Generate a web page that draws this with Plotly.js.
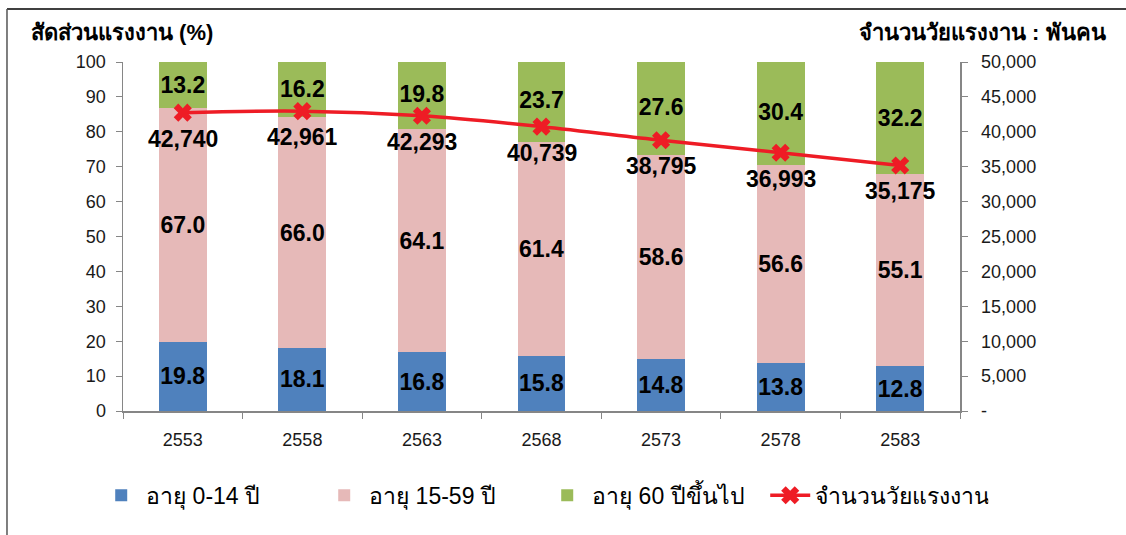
<!DOCTYPE html>
<html>
<head>
<meta charset="utf-8">
<script src="https://cdn.plot.ly/plotly-3.0.1.min.js"></script>
<style>
  html, body { margin: 0; padding: 0; background: #fff; }
  #chart { width: 1126px; height: 535px; }
</style>
</head>
<body>
<div id="chart"></div>
<script>
// years (Buddhist era)
var years = ['2553', '2558', '2563', '2568', '2573', '2578', '2583'];

// share of population by age group (%)
var age0to14 = [19.8, 18.1, 16.8, 15.8, 14.8, 13.8, 12.8];
var age15to59 = [67.0, 66.0, 64.1, 61.4, 58.6, 56.6, 55.1];
var age60plus = [13.2, 16.2, 19.8, 23.7, 27.6, 30.4, 32.2];

// working age population (thousand persons)
var workforce = [42740, 42961, 42293, 40739, 38795, 36993, 35175];

// right axis ticks
var rightTickVals = [0, 5000, 10000, 15000, 20000, 25000, 30000, 35000, 40000, 45000, 50000];
var rightTickText = ['-', '5,000', '10,000', '15,000', '20,000', '25,000', '30,000', '35,000', '40,000', '45,000', '50,000'];

var names = ['อายุ 0-14 ปี', 'อายุ 15-59 ปี', 'อายุ 60 ปีขึ้นไป', 'จำนวนวัยแรงงาน'];

var FONT = 'Arial, "Liberation Sans", "Noto Sans", sans-serif';
var labelFont = { family: FONT, size: 23, color: '#000' };

function barTrace(vals, name, color) {
    return {
        x: years,
        y: vals,
        name: name,
        type: 'bar',
        width: 0.4,
        marker: { color: color },
        text: vals.map(function(v) { return '<b>' + v.toFixed(1) + '</b>'; }),
        textposition: 'inside',
        insidetextanchor: 'middle',
        textangle: 0,
        constraintext: 'none',
        textfont: labelFont,
        hoverinfo: 'none'
    };
}

var data = [
    barTrace(age0to14, names[0], '#4F81BD'),
    barTrace(age15to59, names[1], '#E6B9B8'),
    barTrace(age60plus, names[2], '#9BBB59'),
    {
        x: years,
        y: workforce,
        name: names[3],
        yaxis: 'y2',
        type: 'scatter',
        mode: 'lines+markers',
        line: { color: '#EE1C25', width: 3.5, shape: 'spline' },
        marker: { symbol: 'x', size: 16, color: '#EE1C25' },
        cliponaxis: false,
        hoverinfo: 'none'
    }
];

// labels of the line points, placed under each marker
// (category axis: annotation x is the category index)
var lineLabels = workforce.map(function(v, i) {
    return {
        x: i,
        y: v,
        xref: 'x',
        yref: 'y2',
        text: '<b>' + v.toLocaleString('en-US') + '</b>',
        showarrow: false,
        yanchor: 'middle',
        yshift: -26,
        font: labelFont
    };
});

var axisColor = '#868686';
var tickFont = { family: FONT, size: 18, color: '#1a1a1a' };
var titleFont = { family: FONT, size: 22, color: '#000' };

var layout = {
    width: 1126,
    height: 535,
    margin: { l: 123, r: 166, t: 62, b: 124 },
    paper_bgcolor: '#fff',
    plot_bgcolor: '#fff',
    barmode: 'stack',
    showlegend: true,
    legend: {
        orientation: 'h',
        x: -0.032,
        xanchor: 'left',
        y: -0.18,
        yanchor: 'top',
        font: { family: FONT, size: 23, color: '#000' },
        traceorder: 'normal',
        itemwidth: 40,
        entrywidth: 168
    },
    xaxis: {
        type: 'category',
        range: [-0.5, years.length - 0.5],
        showline: true,
        linecolor: axisColor,
        linewidth: 1.5,
        ticks: 'outside',
        tickson: 'boundaries',
        ticklen: 6,
        tickcolor: axisColor,
        tickfont: tickFont,
        tickangle: 0,
        ticklabelstandoff: 12,
        showgrid: false,
        zeroline: false
    },
    yaxis: {
        range: [0, 100],
        dtick: 10,
        showline: true,
        linecolor: axisColor,
        linewidth: 1.5,
        ticks: 'outside',
        ticklen: 6,
        tickcolor: axisColor,
        tickfont: tickFont,
        ticklabelstandoff: 6,
        showgrid: false,
        zeroline: false
    },
    yaxis2: {
        overlaying: 'y',
        side: 'right',
        range: [0, 50000],
        tickvals: rightTickVals,
        ticktext: rightTickText,
        showline: true,
        linecolor: axisColor,
        linewidth: 1.5,
        ticks: 'outside',
        ticklen: 6,
        tickcolor: axisColor,
        tickfont: tickFont,
        ticklabelstandoff: 10,
        showgrid: false,
        zeroline: false
    },
    annotations: [
        {
            text: '<b>สัดส่วนแรงงาน (%)</b>',
            xref: 'paper', yref: 'paper',
            x: -0.112, y: 1.085,
            xanchor: 'left', yanchor: 'middle',
            showarrow: false,
            font: titleFont
        },
        {
            text: '<b>จำนวนวัยแรงงาน : พันคน</b>',
            xref: 'paper', yref: 'paper',
            x: 1.177, y: 1.085,
            xanchor: 'right', yanchor: 'middle',
            showarrow: false,
            font: titleFont
        }
    ].concat(lineLabels),
    shapes: [
        // outer frame (top and left edges visible)
        { type: 'line', xref: 'paper', yref: 'paper', x0: -0.1386, x1: 1.25, y0: 1.152, y1: 1.152,
          line: { color: '#000', width: 1.5 } },
        { type: 'line', xref: 'paper', yref: 'paper', x0: -0.1386, x1: -0.1386, y0: 1.152, y1: -0.4,
          line: { color: '#555', width: 1.5 } }
    ]
};

Plotly.newPlot('chart', data, layout, { displayModeBar: false, staticPlot: true });
</script>
</body>
</html>
